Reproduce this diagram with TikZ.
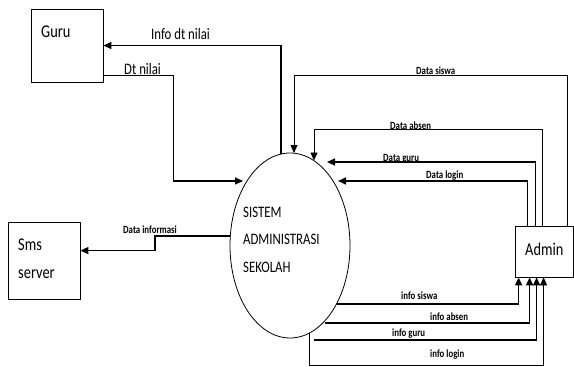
\documentclass[tikz,border=0pt]{standalone}
\usepackage{fontspec}
\setmainfont{Carlito}[FakeStretch=0.8]
\usetikzlibrary{arrows.meta,calc,shapes.geometric}
\begin{document}
\begin{tikzpicture}[x=1pt,y=-1pt,
  box/.style={draw, line width=0.8pt, rectangle, inner sep=0pt},
  lbl/.style={anchor=base west, inner sep=0pt},
  big/.style={lbl, font=\fontsize{18}{20}\selectfont},
  mid/.style={lbl, font=\fontsize{16}{18}\selectfont},
  small/.style={lbl, font=\bfseries\fontsize{11}{13}\selectfont},
  flow/.style={-{Triangle[length=8pt,width=7pt]}, line width=0.8pt},
  medflow/.style={flow, line width=1.2pt},
  thickflow/.style={flow, line width=1.6pt}]
\useasboundingbox[fill=white] (0,0) rectangle (574,367);

% entities
\node[box, minimum width=72pt, minimum height=73pt] (guru) at (67,45.5) {};
\node[box, minimum width=72pt, minimum height=77pt] (sms) at (44,260.5) {};
\node[box, minimum width=58pt, minimum height=51pt] (admin) at (544,251.5) {};
\node[draw, ellipse, line width=0.8pt, minimum width=120pt, minimum height=185pt, inner sep=0pt] (sys) at (290,245.5) {};

% texts
\node[big] (tguru) at (41,37) {Guru};
\node[big] (tsms1) at (18,250) {Sms};
\node[big] (tsms2) at (18,278) {server};
\node[big] (tadmin) at (525,255) {Admin};
\node[mid] (ts1) at (243,217) {SISTEM};
\node[mid] (ts2) at (243,244) {ADMINISTRASI};
\node[mid] (ts3) at (243,272) {SEKOLAH};

% flows
\draw[medflow] ($(sys.center)+(-9,-91.5)$) |- (guru.east);
\draw[medflow] ($(guru.south east)+(0,-7)$) -- ++(70,0) |- ($(sys.center)+(-47,-64.5)$);
\draw[thickflow] ($(sys.center)+(-59.7,-9.5)$) -- ++(-75.5,0) |- ($(sms.north east)+(0,29)$);

\draw[flow] ($(admin.north west)+(53,0)$) -- ++(0,-150) -| ($(sys.center)+(4,-92.5)$);
\draw[flow] ($(admin.north west)+(28,0)$) -- ++(0,-96) -| ($(sys.center)+(24,-85)$);
\draw[medflow] ($(admin.north west)+(21,0)$) |- ($(sys.center)+(37,-83.5)$);
\draw[thickflow] ($(admin.north west)+(13,0)$) |- ($(sys.center)+(48,-64.5)$);

\draw[thickflow] ($(sys.center)+(47,58.5)$) -| ($(admin.south west)+(4,0)$);
\draw[thickflow] ($(sys.center)+(35,77.5)$) -| ($(admin.south west)+(15,0)$);
\draw[thickflow] ($(sys.center)+(24,94.5)$) -| ($(admin.south west)+(22,0)$);
\draw[flow] ($(sys.center)+(19,87.5)$) -- ++(0,32) -| ($(admin.south west)+(29,0)$);

% flow labels
\node[mid] (linfo) at (151,39) {Info dt nilai};
\node[mid] (ldt) at (124,74) {Dt nilai};
\node[small] (linf) at (123,233) {Data informasi};
\node[small] (lsiswa) at (416,74) {Data siswa};
\node[small] (labsen) at (390,129) {Data absen};
\node[small] (lguru) at (383,161) {Data guru};
\node[small] (llogin) at (426,178) {Data login};
\node[small] (isiswa) at (401,299) {info siswa};
\node[small] (iabsen) at (430,320) {info absen};
\node[small] (iguru) at (392,336) {info guru};
\node[small] (ilogin) at (430,357) {info login};
\end{tikzpicture}
\end{document}
